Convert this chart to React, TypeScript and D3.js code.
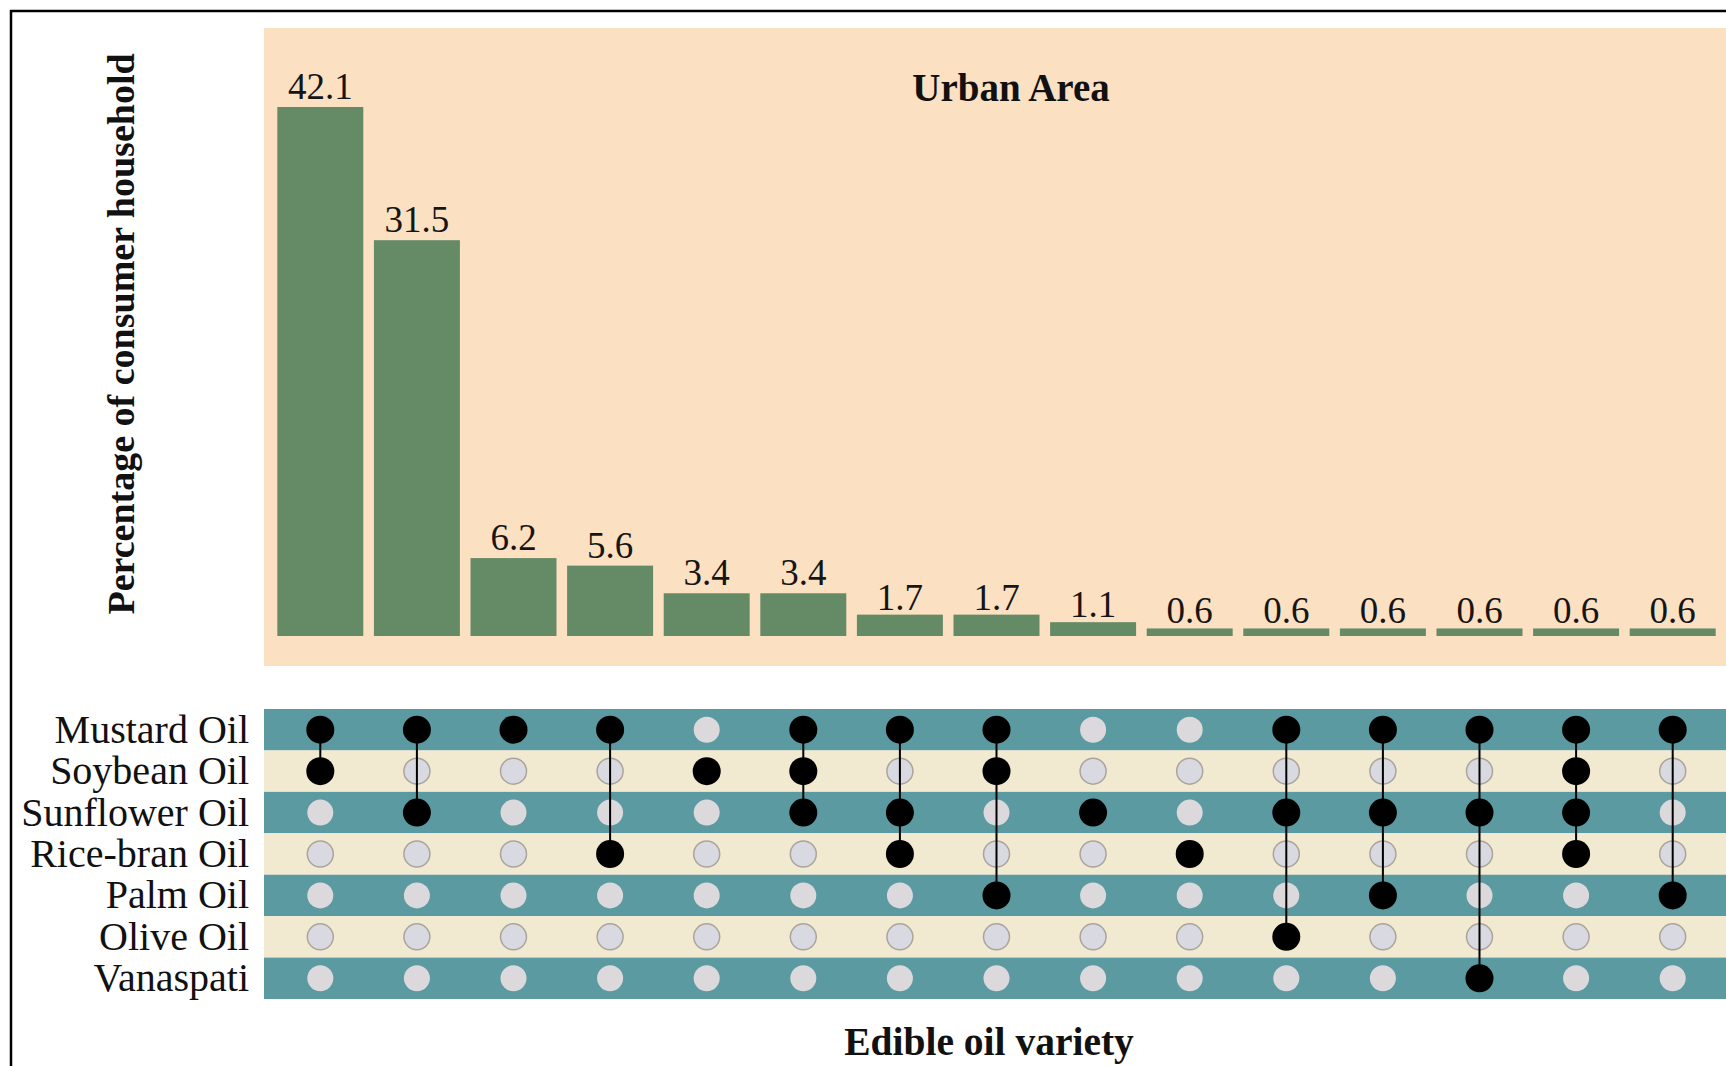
import React from "react";
import * as d3 from "d3";

const values = [42.1, 31.5, 6.2, 5.6, 3.4, 3.4, 1.7, 1.7, 1.1, 0.6, 0.6, 0.6, 0.6, 0.6, 0.6];
const oils = ["Mustard Oil", "Soybean Oil", "Sunflower Oil", "Rice-bran Oil", "Palm Oil", "Olive Oil", "Vanaspati"];
// each combination: list of oil indices used
const combos: number[][] = [
  [0, 1],
  [0, 2],
  [0],
  [0, 3],
  [1],
  [0, 1, 2],
  [0, 2, 3],
  [0, 1, 4],
  [2],
  [3],
  [0, 2, 5],
  [0, 2, 4],
  [0, 2, 6],
  [0, 1, 2, 3],
  [0, 4],
];
const title = "Urban Area";
const yTitle = "Percentage of consumer household";
const xTitle = "Edible oil variety";

const W = 1726;
const H = 1066;
const serif = "'Liberation Serif', 'Times New Roman', 'DejaVu Serif', serif";

export default function App() {
  const idx = values.map((_, i) => i);
  const x = d3.scaleBand<number>().domain(idx).range([272, 1721]).paddingInner(0.11).paddingOuter(0.055);
  const y = d3.scaleLinear().domain([0, 42.1]).range([636, 107]);
  const row = d3.scaleBand<number>().domain(oils.map((_, i) => i)).range([709, 999]);

  return (
    <svg width={W} height={H} style={{ position: "absolute", left: 0, top: 0, background: "#fff" }} fontFamily={serif}>
      {/* frame */}
      <rect x={11} y={11} width={W + 20} height={H + 20} fill="#fff" stroke="#000" strokeWidth={2.5} />
      {/* top panel */}
      <rect x={264} y={28} width={W - 264} height={638} fill="#FCE0C2" />
      {values.map((v, i) => (
        <g key={i}>
          <rect x={x(i)!} y={y(v)} width={x.bandwidth()} height={y(0) - y(v)} fill="#648A66" />
          <text
            x={x(i)! + x.bandwidth() / 2}
            y={y(v) - (v < 2 ? 5 : 8)}
            textAnchor="middle"
            fontSize={37}
            fill="#151515"
          >
            {v.toFixed(1)}
          </text>
        </g>
      ))}
      <text x={1011} y={101} textAnchor="middle" fontSize={39} fontWeight="bold" fill="#111">
        {title}
      </text>
      <text
        transform="translate(134,334) rotate(-90)"
        textAnchor="middle"
        fontSize={38}
        fontWeight="bold"
        fill="#111"
      >
        {yTitle}
      </text>
      {/* matrix */}
      {oils.map((o, r) => (
        <g key={o}>
          <rect
            x={264}
            y={row(r)!}
            width={W - 264}
            height={row.bandwidth()}
            fill={r % 2 === 0 ? "#5A9AA0" : "#F1EAD0"}
          />
          <text
            x={249}
            y={row(r)! + row.bandwidth() / 2 + 13}
            textAnchor="end"
            fontSize={40}
            fill="#111"
          >
            {o}
          </text>
        </g>
      ))}
      {combos.map((c, i) => {
        const cx = x(i)! + x.bandwidth() / 2;
        const ys = c.map((r) => row(r)! + row.bandwidth() / 2);
        return (
          <g key={i}>
            {oils.map((_, r) =>
              c.includes(r) ? null : (
                <circle
                  key={r}
                  cx={cx}
                  cy={row(r)! + row.bandwidth() / 2}
                  r={13}
                  fill={r % 2 === 0 ? "#DCD9DD" : "#D9D9E1"}
                  stroke={r % 2 === 0 ? "none" : "#ABA49C"}
                  strokeWidth={1.5}
                />
              )
            )}
            {c.length > 1 && (
              <line x1={cx} x2={cx} y1={d3.min(ys)!} y2={d3.max(ys)!} stroke="#000" strokeWidth={2} />
            )}
            {ys.map((yy, k) => (
              <circle key={k} cx={cx} cy={yy} r={14} fill="#000" />
            ))}
          </g>
        );
      })}
      <text x={989} y={1055} textAnchor="middle" fontSize={39.5} fontWeight="bold" fill="#111">
        {xTitle}
      </text>
    </svg>
  );
}
